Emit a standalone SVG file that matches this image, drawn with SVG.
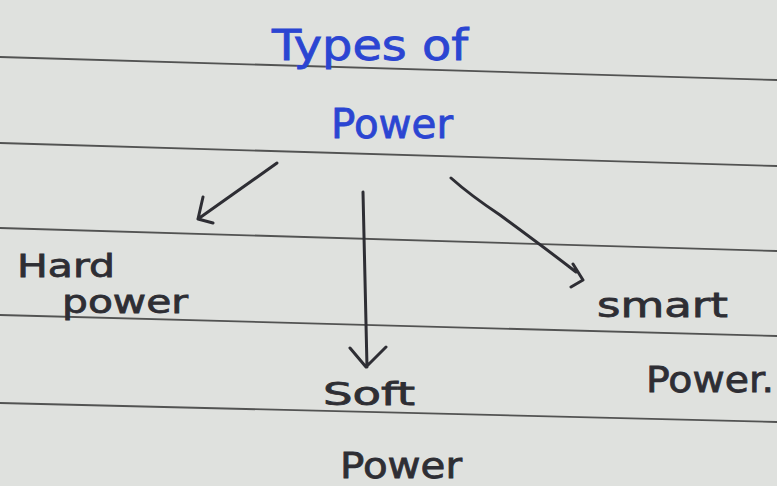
<svg xmlns="http://www.w3.org/2000/svg" width="777" height="486" viewBox="0 0 777 486">
<style>
.rule{stroke:#3a3a3a;stroke-width:1.8;fill:none;opacity:0.85}
.ink{font-family:"DejaVu Sans","Liberation Sans",sans-serif;fill:#2e2e34;stroke:#2e2e34;stroke-width:0.8}
.blue{font-family:"DejaVu Sans","Liberation Sans",sans-serif;fill:#2b45d2;stroke:#2b45d2;stroke-width:0.8}
.con{stroke:#2e2e34;stroke-width:3;fill:none;stroke-linecap:round;stroke-linejoin:round}
</style>
<rect width="777" height="486" fill="#dfe1de"/>
<g id="rules">
<line class="rule" x1="0" y1="57" x2="777" y2="80"/>
<line class="rule" x1="0" y1="143" x2="777" y2="166"/>
<line class="rule" x1="0" y1="228" x2="777" y2="251"/>
<line class="rule" x1="0" y1="315" x2="777" y2="336"/>
<line class="rule" x1="0" y1="403" x2="777" y2="422"/>
</g>
<g id="title">
<text class="blue" x="272" y="60" font-size="42" textLength="196" lengthAdjust="spacingAndGlyphs">Types of</text>
<text class="blue" x="331" y="138" font-size="40" textLength="122" lengthAdjust="spacingAndGlyphs">Power</text>
</g>
<g id="hard">
<text class="ink" x="17" y="277" font-size="32" textLength="98" lengthAdjust="spacingAndGlyphs">Hard</text>
<text class="ink" x="62" y="313" font-size="32" textLength="126" lengthAdjust="spacingAndGlyphs">power</text>
</g>
<g id="soft">
<text class="ink" x="323" y="405" font-size="32" textLength="92" lengthAdjust="spacingAndGlyphs">Soft</text>
<text class="ink" x="340" y="478" font-size="36" textLength="122" lengthAdjust="spacingAndGlyphs">Power</text>
</g>
<g id="smart">
<text class="ink" x="597" y="317" font-size="34" textLength="131" lengthAdjust="spacingAndGlyphs">smart</text>
<text class="ink" x="646" y="392" font-size="36" textLength="128" lengthAdjust="spacingAndGlyphs">Power.</text>
</g>
<g id="connectors">
<path class="con" d="M277 163 L198 219 M203 197 L198 219 L213 223"/>
<path class="con" d="M363 192 L367 367 M350 348 L366 367 L386 347"/>
<path class="con" d="M451 178 Q470 195 500 215 Q545 248 576 272 M573 264 L583 280 L571 287"/>
</g>
</svg>
